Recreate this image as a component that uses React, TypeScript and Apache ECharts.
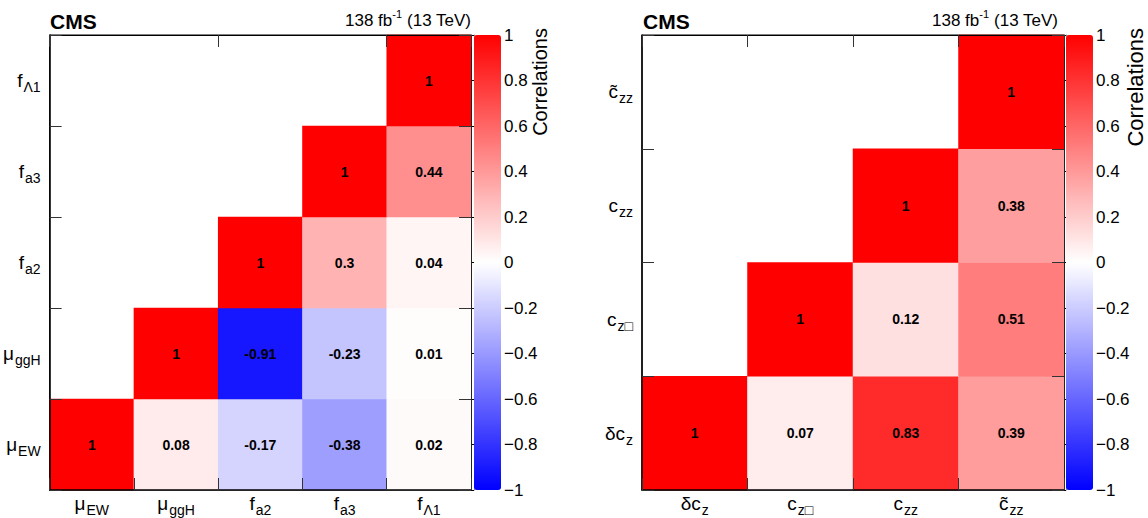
import React, { useEffect, useRef } from 'react';
import * as echarts from 'echarts';

const FONT = '"Liberation Sans", Arial, Helvetica, sans-serif';

// Left panel: categories (main symbol + subscript), bottom-to-top for y
const leftMain = ['μ', 'μ', 'f', 'f', 'f'];
const leftSub = ['EW', 'ggH', 'a2', 'a3', 'Λ1'];
// rows indexed by y (bottom to top), columns by x
const leftRowMuEW = [1, 0.08, -0.17, -0.38, 0.02];
const leftRowMuGgH = [null, 1, -0.91, -0.23, 0.01];
const leftRowFa2 = [null, null, 1, 0.3, 0.04];
const leftRowFa3 = [null, null, null, 1, 0.44];
const leftRowFL1 = [null, null, null, null, 1];
const leftRows = [leftRowMuEW, leftRowMuGgH, leftRowFa2, leftRowFa3, leftRowFL1];

// Right panel
const rightMain = ['δc', 'c', 'c', 'c̃'];
const rightSub = ['z', 'z□', 'zz', 'zz'];
const rightRowDcz = [1, 0.07, 0.83, 0.39];
const rightRowCzBox = [null, 1, 0.12, 0.51];
const rightRowCzz = [null, null, 1, 0.38];
const rightRowCzzT = [null, null, null, 1];
const rightRows = [rightRowDcz, rightRowCzBox, rightRowCzz, rightRowCzzT];

const colorTicks = { min: -1, max: 1, interval: 0.2 };
const titleText = 'CMS';
const lumiMain = '138 fb';
const lumiSup = '-1';
const lumiEnergy = ' (13 TeV)';
const barTitle = 'Correlations';

function toData(rows: (number | null)[][]) {
  const out: [number, number, number][] = [];
  rows.forEach((row, y) => row.forEach((v, x) => { if (v !== null) out.push([x, y, v]); }));
  return out;
}

const rich = {
  m: { fontSize: 19, lineHeight: 19, fontFamily: FONT, color: '#000', verticalAlign: 'top' },
  s: { fontSize: 14, lineHeight: 14, fontFamily: FONT, color: '#000', verticalAlign: 'top', padding: [9, 0, 0, 1] },
};

function catLabels(main: string[], sub: string[]) {
  return main.map((m, i) => `{m|${m}}{s|${sub[i]}}`);
}

const tickStyle = { show: true, inside: true, length: 12, lineStyle: { color: '#333' } };

function panel(gi: number, cats: string[], left: number, width: number, barLeft: number) {
  return {
    grid: [
      { left, top: 35, width, height: 455, show: true, borderColor: '#000', borderWidth: 1, backgroundColor: '#fff' },
      { left: barLeft, top: 35, width: 27, height: 455 },
    ],
    xAxis: [
      {
        gridIndex: gi * 2, type: 'category', data: cats, position: 'bottom', z: 5,
        axisLine: { show: true, lineStyle: { color: '#000', width: 1.5 } },
        axisTick: tickStyle,
        axisLabel: { margin: 4, interval: 0, rich, formatter: (v: string) => v },
        splitLine: { show: false },
      },
      {
        gridIndex: gi * 2, type: 'category', data: cats, position: 'top', z: 5,
        axisLine: { show: true, lineStyle: { color: '#000' } },
        axisTick: tickStyle,
        axisLabel: { show: false },
      },
      { gridIndex: gi * 2 + 1, type: 'value', show: false, min: 0, max: 1 },
    ],
    yAxis: [
      {
        gridIndex: gi * 2, type: 'category', data: cats, z: 5,
        axisLine: { show: true, lineStyle: { color: '#000', width: 1.5 } },
        axisTick: tickStyle,
        axisLabel: { margin: 9, interval: 0, rich, formatter: (v: string) => v },
        splitLine: { show: false },
      },
      {
        gridIndex: gi * 2, type: 'category', data: cats, position: 'right', z: 5,
        axisLine: { show: true, lineStyle: { color: '#222' } },
        axisTick: tickStyle,
        axisLabel: { show: false },
      },
      {
        gridIndex: gi * 2 + 1, type: 'value', position: 'right',
        min: colorTicks.min, max: colorTicks.max, interval: colorTicks.interval,
        axisLine: { show: true, lineStyle: { color: '#888' } },
        axisTick: { show: true, inside: true, length: 13, lineStyle: { color: '#000' } },
        axisLabel: {
          margin: 3, fontSize: 17, fontFamily: FONT, color: '#000',
          formatter: (v: number) => String(Math.round(v * 10) / 10).replace('-', '−'),
        },
        splitLine: { show: false },
      },
    ],
  };
}

export default function App() {
  const ref = useRef<HTMLDivElement>(null);
  useEffect(() => {
    if (!ref.current) return;
    const chart = echarts.init(ref.current, undefined, { renderer: 'svg' });
    const L = panel(0, catLabels(leftMain, leftSub), 49, 422, 474);
    const R = panel(1, catLabels(rightMain, rightSub), 642, 422, 1066);
    const cellStyle = {
      label: {
        show: true, fontSize: 14, fontWeight: 'bold', fontFamily: FONT, color: '#000',
        formatter: (p: any) => String(p.value[2]),
      },
      emphasis: { disabled: true },
    };
    const vm = (seriesIndex: number, left: number) => ({
      type: 'continuous', seriesIndex, min: colorTicks.min, max: colorTicks.max,
      left, top: 35, itemWidth: 27, itemHeight: 455, padding: 0,
      calculable: false, hoverLink: false,
      inRange: { color: ['#0000ff', '#ffffff', '#ff0000'] },
    });
    const titleGraphics = (x0: number, x1: number, barX: number, barSize: number) => [
      { type: 'text', left: x0, top: 11, style: { text: titleText, font: `bold 21px ${FONT}`, fill: '#000' } },
      {
        type: 'text', x: x1, y: 8,
        style: {
          text: `{a|${lumiMain}}{b|${lumiSup}}{a|${lumiEnergy}}`, align: 'right', verticalAlign: 'top',
          rich: {
            a: { fontSize: 17, lineHeight: 24, fontFamily: FONT, fill: '#000' },
            b: { fontSize: 11, lineHeight: 12, fontFamily: FONT, fill: '#000', verticalAlign: 'top' },
          },
        },
      },
      {
        type: 'text', x: barX, y: 28, rotation: Math.PI / 2,
        style: { text: barTitle, align: 'right', verticalAlign: 'middle', font: `${barSize}px ${FONT}`, fill: '#000' },
      },
    ];
    chart.setOption({
      animation: false,
      grid: [...L.grid, ...R.grid],
      xAxis: [...L.xAxis, ...R.xAxis],
      yAxis: [...L.yAxis, ...R.yAxis],
      visualMap: [vm(0, 474), vm(1, 1066)],
      series: [
        { type: 'heatmap', xAxisIndex: 0, yAxisIndex: 0, data: toData(leftRows), ...cellStyle },
        { type: 'heatmap', xAxisIndex: 3, yAxisIndex: 3, data: toData(rightRows), ...cellStyle },
      ],
      graphic: [...titleGraphics(50, 471, 540, 20), ...titleGraphics(643, 1058, 1135, 22)],
    });
    return () => chart.dispose();
  }, []);
  return <div ref={ref} style={{ width: 1148, height: 518, position: 'absolute', left: 0, top: 0 }} />;
}
